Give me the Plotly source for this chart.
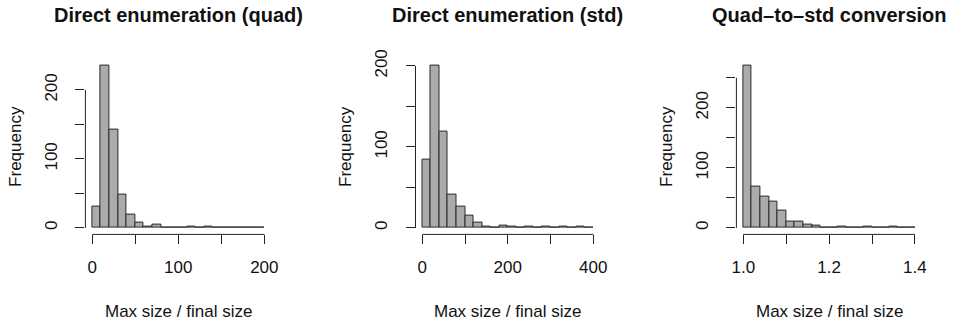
import plotly.graph_objects as go

W, H = 959, 323

# ---- data (histogram bins) ----
quad_start, quad_width = 0, 10
quad_counts = [31, 236, 143, 48, 19, 8, 2, 5, 1, 1, 0, 2, 1, 2, 0, 1, 1, 0, 0, 1]

std_start, std_width = 0, 20
std_counts = [84, 201, 119, 41, 26, 15, 7, 1, 0, 3, 1, 0, 1, 0, 1, 0, 1, 0, 1, 0]

conv_start, conv_width = 1.0, 0.02
conv_counts = [271, 69, 52, 44, 29, 11, 11, 6, 3, 1, 1, 2, 0, 0, 2, 1, 0, 2, 1, 0]

titles = ["Direct enumeration (quad)", "Direct enumeration (std)", "Quad\u2013to\u2013std conversion"]
x_title = "Max size / final size"
y_title = "Frequency"

x_tickvals = [[0, 50, 100, 150, 200], [0, 100, 200, 300, 400], [1.0, 1.1, 1.2, 1.3, 1.4]]
x_ticktext = [["0", "", "100", "", "200"], ["0", "", "200", "", "400"], ["1.0", "", "1.2", "", "1.4"]]
y_tickvals = [[0, 50, 100, 150, 200], [0, 50, 100, 150, 200], [0, 50, 100, 150, 200, 250]]
y_ticktext = [["0", "", "100", "", "200"], ["0", "", "100", "", "200"], ["0", "", "100", "", "200", ""]]

panels = [(quad_start, quad_width, quad_counts),
          (std_start, std_width, std_counts),
          (conv_start, conv_width, conv_counts)]

# ---- layout (pixel geometry of plot regions) ----
left_px = [85.4, 415.5, 736.4]
right_px = [271.2, 600.1, 921.8]
top_px, bottom_px = 58.6, 234.4

FONT = "Liberation Sans, Arial, Helvetica, sans-serif"
BASE = 17
fig = go.Figure()
shapes = []
annotations = []

for i, (start, width, counts) in enumerate(panels):
    n = i + 1
    xa = "x" if n == 1 else f"x{n}"
    ya = "y" if n == 1 else f"y{n}"
    edges = [start + k * width for k in range(len(counts) + 1)]
    mids = [(edges[k] + edges[k + 1]) / 2 for k in range(len(counts))]
    fig.add_trace(go.Bar(
        x=mids, y=counts, width=[width] * len(counts),
        marker=dict(color="#ABABAB", line=dict(color="#2a2a2a", width=1)),
        xaxis=xa, yaxis=ya, showlegend=False, hoverinfo="x+y"))

    lo, hi = edges[0], edges[-1]
    pad = 0.04 * (hi - lo)
    ymax = max(counts)
    ypad = 0.04 * ymax
    xdom = [left_px[i] / W, right_px[i] / W]
    ydom = [(H - bottom_px) / H, (H - top_px) / H]
    axis_common = dict(showgrid=False, zeroline=False, showline=False, automargin=False,
                       ticks="outside", ticklen=9, tickwidth=1, tickcolor="#222",
                       tickfont=dict(family=FONT, size=BASE, color="#111"))
    fig.update_layout(**{
        ("xaxis" if n == 1 else f"xaxis{n}"): dict(
            domain=xdom, anchor=ya, range=[lo - pad, hi + pad],
            tickmode="array", tickvals=x_tickvals[i], ticktext=x_ticktext[i],
            ticklabelstandoff=8, **axis_common),
        ("yaxis" if n == 1 else f"yaxis{n}"): dict(
            domain=ydom, anchor=xa, range=[-ypad, ymax + ypad],
            tickmode="array", tickvals=y_tickvals[i], ticktext=y_ticktext[i],
            tickangle=-90, ticklabelstandoff=12, **axis_common),
    })
    # axis lines spanning the tick range, as R draws them
    shapes.append(dict(type="line", xref=xa, yref=f"{ya} domain",
                       x0=x_tickvals[i][0], x1=x_tickvals[i][-1], y0=0, y1=0,
                       line=dict(color="#222", width=1)))
    shapes.append(dict(type="line", xref=f"{xa} domain", yref=ya,
                       x0=0, x1=0, y0=y_tickvals[i][0], y1=y_tickvals[i][-1],
                       line=dict(color="#222", width=1)))
    # titles
    annotations.append(dict(text=f"<b>{titles[i]}</b>", xref=f"{xa} domain", yref="paper",
                            x=0.5, y=(H - 15) / H, xanchor="center", yanchor="middle",
                            showarrow=False, font=dict(family=FONT, size=20, color="#111")))
    annotations.append(dict(text=x_title, xref=f"{xa} domain", yref="paper",
                            x=0.5, y=(H - 311) / H, xanchor="center", yanchor="middle",
                            showarrow=False, font=dict(family=FONT, size=BASE, color="#111")))
    annotations.append(dict(text=y_title, xref="paper", yref=f"{ya} domain",
                            x=(left_px[i] - 70) / W, y=0.5, xanchor="center", yanchor="middle",
                            textangle=-90, showarrow=False,
                            font=dict(family=FONT, size=BASE, color="#111")))

fig.update_layout(width=W, height=H, margin=dict(l=0, r=0, t=0, b=0, autoexpand=False),
                  paper_bgcolor="white", plot_bgcolor="white", bargap=0,
                  shapes=shapes, annotations=annotations)
fig.write_html("out.html", config={"displayModeBar": False},
               post_script="document.body.style.margin='0';document.body.style.overflow='hidden';")
